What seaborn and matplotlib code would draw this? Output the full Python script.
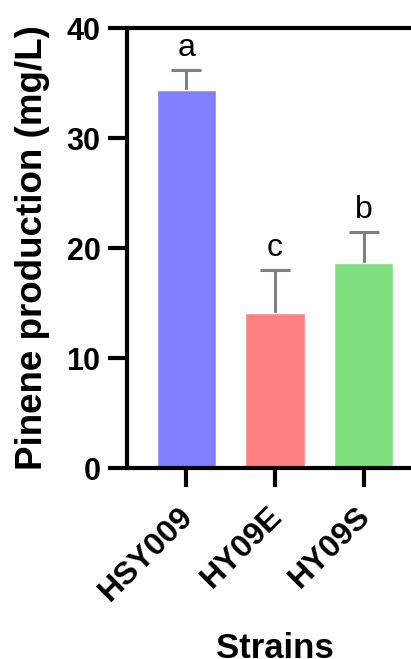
import numpy as np
import pandas as pd
import matplotlib
matplotlib.use('Agg')
import matplotlib.pyplot as plt
import matplotlib.transforms as mtransforms
import seaborn as sns

strains = ['HSY009', 'HY09E', 'HY09S']
pinene_mean = [34.4, 14.1, 18.6]
pinene_sd = [1.8, 3.9, 2.9]
letters = ['a', 'c', 'b']
bar_colors = ['#8080FF', '#FF8080', '#80E080']

sns.set_style('ticks', {'axes.edgecolor': 'black', 'text.color': 'black',
                        'axes.labelcolor': 'black', 'xtick.color': 'black',
                        'ytick.color': 'black'})
plt.rcParams['font.family'] = ['Liberation Sans', 'DejaVu Sans']

df = pd.DataFrame({'strain': strains, 'pinene': pinene_mean})

fig = plt.figure(figsize=(4.11, 6.59), dpi=100)
ax = fig.add_axes([127 / 411, (659 - 468) / 659, (423 - 127) / 411, (468 - 28) / 659])

sns.barplot(data=df, x='strain', y='pinene', hue='strain', palette=bar_colors,
            width=0.67, errorbar=None, legend=False, ax=ax, saturation=1)

# upper error bars only, drawn behind the bars
x = np.arange(len(strains))
eb = ax.errorbar(x, pinene_mean, yerr=[np.zeros(len(strains)), pinene_sd], fmt='none',
                 ecolor='#808080', elinewidth=2.2, capsize=10.5, capthick=2.2, zorder=0.5)
eb[1][0].set_visible(False)  # hide the lower cap
for xi, m, s, lab in zip(x, pinene_mean, pinene_sd, letters):
    ax.text(xi, m + s + 0.6, lab, ha='center', va='bottom', fontsize=23)

ax.set_xlim(-0.672, 2.672)
ax.set_ylim(0, 40)
ax.set_yticks([0, 10, 20, 30, 40])

for side in ['left', 'bottom', 'top', 'right']:
    ax.spines[side].set_visible(True)
    ax.spines[side].set_linewidth(3)
    ax.spines[side].set_color('black')

ax.tick_params(axis='both', direction='out', length=14, width=3, color='black',
               bottom=True, left=True)
ax.tick_params(axis='y', labelsize=22, pad=5)
ax.tick_params(axis='x', labelsize=23, pad=10)
for t in ax.get_yticklabels():
    t.set_fontweight('bold')
shift = mtransforms.ScaledTranslation(-8 / 100, 0, fig.dpi_scale_trans)
for t in ax.get_xticklabels():
    t.set_rotation(45)
    t.set_ha('right')
    t.set_va('top')
    t.set_rotation_mode('anchor')
    t.set_fontweight('bold')
    t.set_transform(t.get_transform() + shift)

ax.set_xlabel('Strains', fontsize=25, fontweight='bold', labelpad=18)
ax.set_ylabel('Pinene production (mg/L)', fontsize=26.5, fontweight='bold', labelpad=12)

fig.savefig('out.png', dpi=100)
